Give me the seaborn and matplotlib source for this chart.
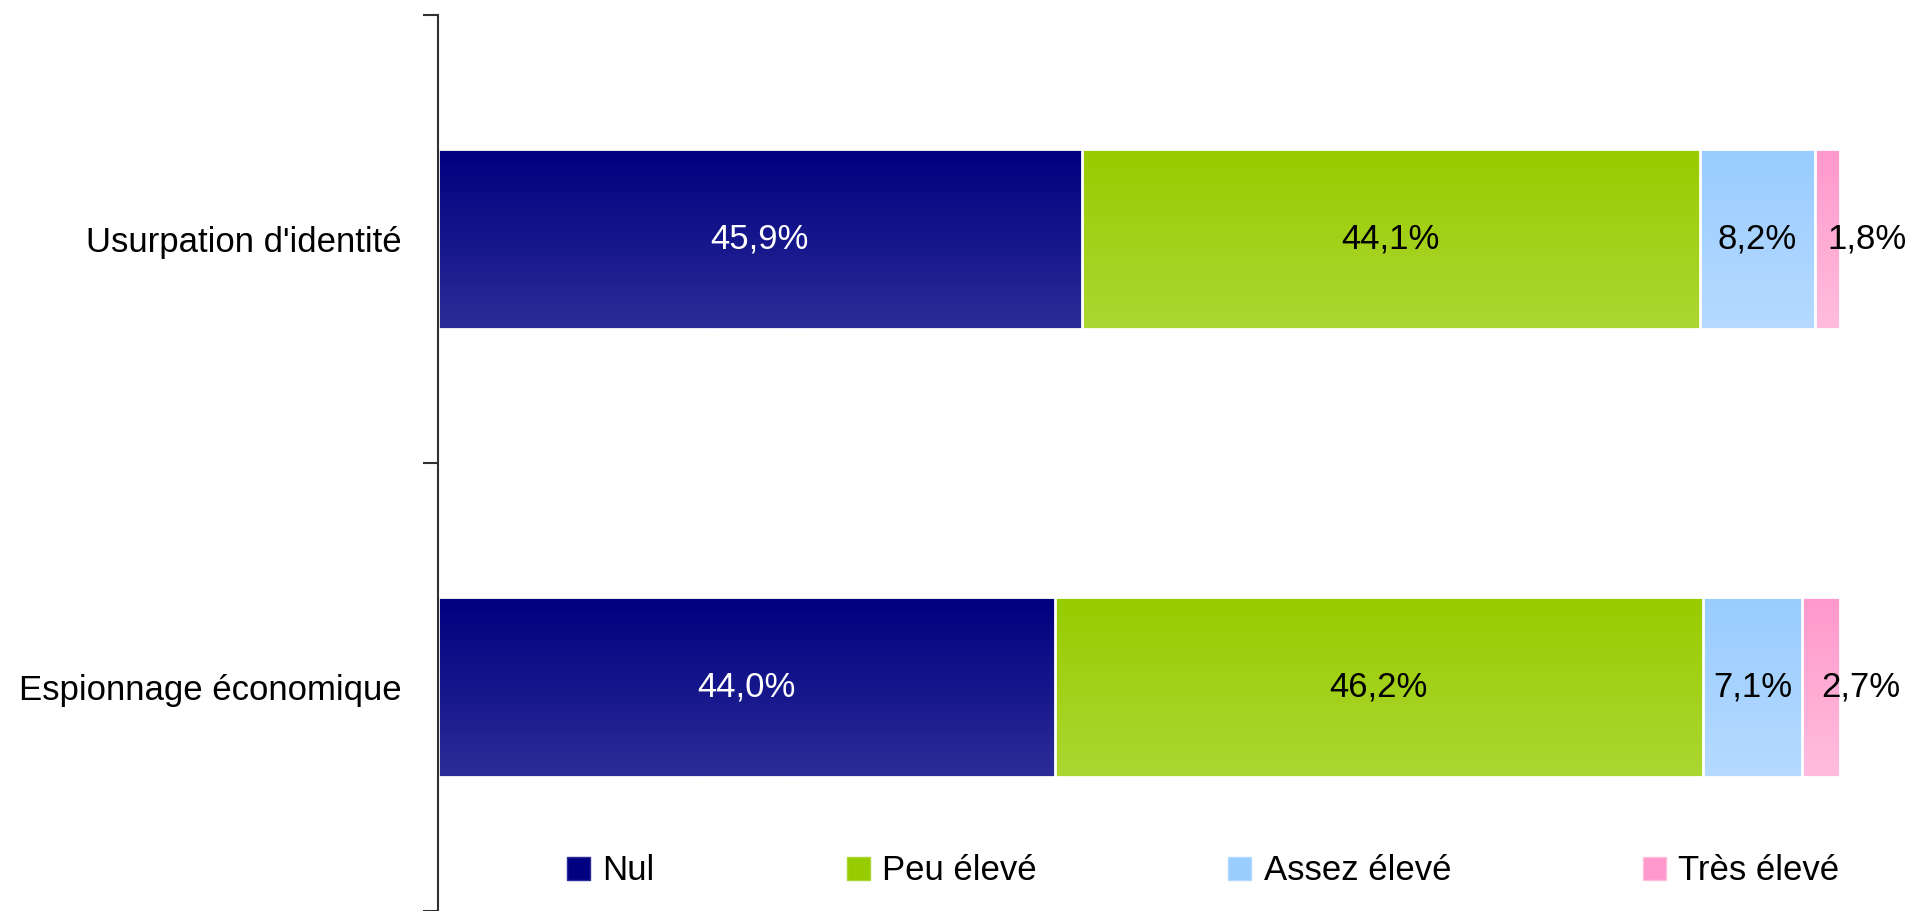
import numpy as np
import pandas as pd
import matplotlib.pyplot as plt
import seaborn as sns
from matplotlib.colors import LinearSegmentedColormap
from matplotlib.patches import Patch

categories = ["Usurpation d'identité", "Espionnage économique"]
series = ["Nul", "Peu élevé", "Assez élevé", "Très élevé"]
nul = [45.9, 44.0]
peu = [44.1, 46.2]
assez = [8.2, 7.1]
tres = [1.8, 2.7]

# gradient colours (top, bottom) per series
grad = {
    "Nul": ("#000080", "#2c2c98"),
    "Peu élevé": ("#99cc00", "#acd632"),
    "Assez élevé": ("#99ccff", "#b6daff"),
    "Très élevé": ("#ff99cc", "#ffbddd"),
}
text_col = {"Nul": "white", "Peu élevé": "black", "Assez élevé": "black", "Très élevé": "black"}

df = pd.DataFrame({"category": categories, "Nul": nul, "Peu élevé": peu,
                   "Assez élevé": assez, "Très élevé": tres})
cum = df[series].cumsum(axis=1)

sns.set_style("white")
plt.rcParams["font.family"] = ["Liberation Sans", "DejaVu Sans"]
plt.rcParams["text.color"] = "black"
plt.rcParams["ytick.color"] = "black"

fig = plt.figure(figsize=(19.10, 9.11), dpi=100)
ax = fig.add_axes([438 / 1910, 0.0, (1840 - 438) / 1910, 896 / 911])

# stacked bars: draw cumulative totals from the widest to the narrowest
for k, s in enumerate(reversed(series)):
    n0 = len(ax.patches)
    sns.barplot(x=cum[s], y=df["category"], orient="h", width=0.4, ax=ax,
                color=grad[s][0], edgecolor="white", linewidth=2)
    cmap = LinearSegmentedColormap.from_list(s, [grad[s][0], grad[s][1]])
    z = 1 + k * 0.1
    for p in ax.patches[n0:]:
        x0, y0 = p.get_x(), p.get_y()
        w, h = p.get_width(), p.get_height()
        im = ax.imshow(np.linspace(0, 1, 64).reshape(-1, 1), cmap=cmap, aspect="auto",
                       extent=(x0, x0 + w, y0 + h, y0), origin="upper", zorder=z)
        im.set_clip_path(p)
        p.set_facecolor("none")
        p.set_zorder(z + 0.05)

# value labels (the thin last segment gets its label starting at its centre)
for i in range(len(categories)):
    for s in series:
        v = df.loc[i, s]
        ha = "left" if s == "Très élevé" else "center"
        ax.text(cum.loc[i, s] - v / 2, i, f"{v:.1f}%".replace(".", ","),
                ha=ha, va="center", fontsize=25, color=text_col[s], zorder=5)

ax.set_xlim(0, 100)
ax.set_ylim(1.5, -0.5)
ax.set_xlabel("")
ax.set_ylabel("")
ax.set_xticks([])
ax.set_yticks([0, 1])
ax.set_yticklabels(categories, fontsize=25, color="black")
ax.set_yticks([-0.5, 0.5, 1.5], minor=True)
ax.tick_params(axis="y", which="major", length=0, pad=26)
ax.tick_params(axis="y", which="minor", length=11, width=1.5, color="#303030", left=True)
for side in ["top", "right", "bottom"]:
    ax.spines[side].set_visible(False)
ax.spines["left"].set_color("#303030")
ax.spines["left"].set_linewidth(1.5)
ax.spines["left"].set_zorder(6)

handles = [Patch(facecolor=grad[s][0], edgecolor=grad[s][1], label=s) for s in series]
fig.legend(handles=handles, loc="center", bbox_to_anchor=(0.63, 0.044), ncol=4,
           frameon=False, fontsize=25, handlelength=0.66, handleheight=0.66,
           handletextpad=0.35, columnspacing=5.53)

fig.savefig("out.png", dpi=100)
